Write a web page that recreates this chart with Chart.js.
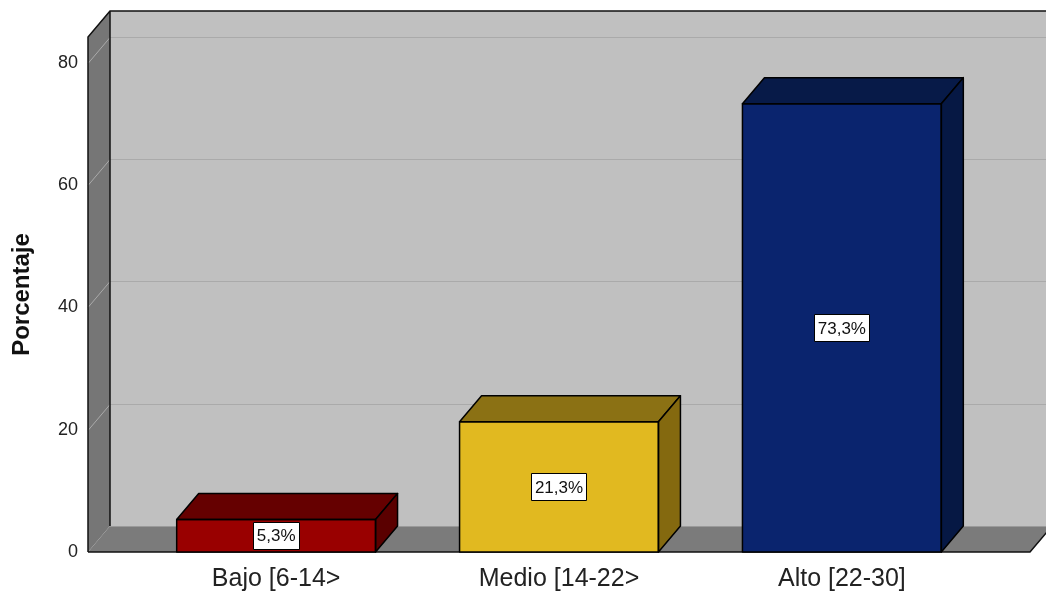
<!DOCTYPE html>
<html lang="es">
<head>
    <meta charset="UTF-8">
    <script src="https://cdn.jsdelivr.net/npm/chart.js"></script>
    <title>Porcentaje por nivel</title>
    <style>
        body { margin: 0; background: #fff; }
        #wrap { width: 1046px; height: 596px; }
    </style>
</head>
<body>
    <div id="wrap">
        <canvas id="barChart"></canvas>
    </div>

    <script>
    const categories = ['Bajo [6-14>', 'Medio [14-22>', 'Alto [22-30]'];
    const porcentajes = [5.3, 21.3, 73.3];
    const yTicks = [0, 20, 40, 60, 80];

    const frontColors = ['#990000', '#e1b920', '#0a246e'];
    const topColors = ['#650000', '#8b7114', '#071a48'];
    const sideColors = ['#5a0000', '#84690f', '#061844'];

    const DX = 22, DY = 26;

    // walls, floor and grid of the 3D box
    const box3d = {
        id: 'box3d',
        beforeDatasetsDraw(chart) {
            const {ctx, chartArea: a, scales: {y}} = chart;
            const W = chart.width;
            ctx.save();
            // back wall
            ctx.fillStyle = '#c0c0c0';
            ctx.fillRect(a.left + DX, a.top - DY, W - a.left - DX, a.bottom - a.top);
            // left wall
            ctx.fillStyle = '#767676';
            ctx.beginPath();
            ctx.moveTo(a.left, a.top);
            ctx.lineTo(a.left + DX, a.top - DY);
            ctx.lineTo(a.left + DX, a.bottom - DY);
            ctx.lineTo(a.left, a.bottom);
            ctx.closePath();
            ctx.fill();
            // grid lines
            ctx.strokeStyle = '#aaaaaa';
            ctx.lineWidth = 1;
            yTicks.forEach(v => {
                if (v === 0) return;
                const py = Math.round(y.getPixelForValue(v)) + 0.5;
                ctx.beginPath();
                ctx.moveTo(a.left, py);
                ctx.lineTo(a.left + DX, py - DY);
                ctx.lineTo(W, py - DY);
                ctx.stroke();
            });
            // floor
            ctx.fillStyle = '#7b7b7b';
            ctx.beginPath();
            ctx.moveTo(a.left, a.bottom);
            ctx.lineTo(a.right, a.bottom);
            ctx.lineTo(a.right + DX, a.bottom - DY);
            ctx.lineTo(a.left + DX, a.bottom - DY);
            ctx.closePath();
            ctx.fill();
            ctx.strokeStyle = '#9a9a9a';
            ctx.beginPath();
            ctx.moveTo(a.left + DX, a.bottom - DY + 0.5);
            ctx.lineTo(W, a.bottom - DY + 0.5);
            ctx.stroke();
            // edges
            ctx.strokeStyle = '#111';
            ctx.lineWidth = 1.5;
            ctx.beginPath();
            ctx.moveTo(a.left, a.bottom);
            ctx.lineTo(a.left, a.top);
            ctx.lineTo(a.left + DX, a.top - DY);
            ctx.lineTo(W, a.top - DY);
            ctx.moveTo(a.left + DX, a.top - DY);
            ctx.lineTo(a.left + DX, a.bottom - DY);
            ctx.moveTo(a.left, a.bottom);
            ctx.lineTo(a.right, a.bottom);
            ctx.lineTo(a.right + DX, a.bottom - DY);
            ctx.stroke();
            ctx.restore();
        },
        afterDatasetsDraw(chart) {
            const {ctx} = chart;
            const bars = chart.getDatasetMeta(0).data;
            ctx.save();
            ctx.strokeStyle = '#000';
            ctx.lineWidth = 1.5;
            ctx.lineJoin = 'round';
            bars.forEach((bar, i) => {
                const {x, y, base, width} = bar.getProps(['x', 'y', 'base', 'width'], true);
                const l = x - width / 2, r = x + width / 2;
                // top face
                ctx.fillStyle = topColors[i];
                ctx.beginPath();
                ctx.moveTo(l, y);
                ctx.lineTo(l + DX, y - DY);
                ctx.lineTo(r + DX, y - DY);
                ctx.lineTo(r, y);
                ctx.closePath();
                ctx.fill();
                ctx.stroke();
                // side face
                ctx.fillStyle = sideColors[i];
                ctx.beginPath();
                ctx.moveTo(r, y);
                ctx.lineTo(r + DX, y - DY);
                ctx.lineTo(r + DX, base - DY);
                ctx.lineTo(r, base);
                ctx.closePath();
                ctx.fill();
                ctx.stroke();
                // front outline
                ctx.strokeRect(l, y, width, base - y);
                // value label
                const txt = porcentajes[i].toFixed(1).replace('.', ',') + '%';
                ctx.font = '17px "Liberation Sans", Arial, sans-serif';
                const tw = ctx.measureText(txt).width;
                const cy = (y + base) / 2;
                const bw = tw + 7, bh = 27;
                ctx.lineWidth = 1;
                ctx.fillStyle = '#fff';
                ctx.fillRect(Math.round(x - bw / 2) + 0.5, Math.round(cy - bh / 2) + 0.5, Math.round(bw), bh);
                ctx.strokeRect(Math.round(x - bw / 2) + 0.5, Math.round(cy - bh / 2) + 0.5, Math.round(bw), bh);
                ctx.lineWidth = 1.5;
                ctx.fillStyle = '#111';
                ctx.textAlign = 'center';
                ctx.textBaseline = 'middle';
                ctx.fillText(txt, x, cy + 1);
            });
            ctx.restore();
        }
    };

    const ctx = document.getElementById('barChart');

    new Chart(ctx, {
        type: 'bar',
        data: {
            datasets: [{
                label: 'Porcentaje',
                data: porcentajes.map((v, i) => ({x: i, y: v})),
                backgroundColor: frontColors,
                borderColor: '#000',
                borderWidth: 0,
                categoryPercentage: 1,
                barPercentage: 0.703
            }]
        },
        options: {
            responsive: true,
            maintainAspectRatio: false,
            animation: false,
            layout: {
                padding: {top: 37, right: 16, left: 0, bottom: 0}
            },
            plugins: {
                legend: {display: false},
                tooltip: {enabled: false}
            },
            scales: {
                x: {
                    type: 'linear',
                    min: -0.665,
                    max: 2.665,
                    offset: false,
                    grid: {display: false, drawTicks: false},
                    border: {display: false},
                    afterBuildTicks: (scale) => {
                        scale.ticks = categories.map((c, i) => ({value: i}));
                    },
                    afterFit: (scale) => { scale.height = 44; },
                    ticks: {
                        callback: (v) => categories[v],
                        maxRotation: 0,
                        autoSkip: false,
                        padding: 12,
                        color: '#222',
                        font: {family: '"Liberation Sans", Arial, sans-serif', size: 25}
                    }
                },
                y: {
                    min: 0,
                    max: 84.2,
                    grid: {display: false, drawTicks: false},
                    border: {display: false},
                    afterBuildTicks: (scale) => {
                        scale.ticks = yTicks.map(v => ({value: v}));
                    },
                    afterFit: (scale) => { scale.width = 88; },
                    ticks: {
                        padding: 10,
                        color: '#222',
                        font: {family: '"Liberation Sans", Arial, sans-serif', size: 18}
                    },
                    title: {
                        display: true,
                        text: 'Porcentaje',
                        color: '#111',
                        padding: {top: 8, bottom: 0},
                        font: {family: '"Liberation Sans", Arial, sans-serif', size: 24, weight: 'bold'}
                    }
                }
            }
        },
        plugins: [box3d]
    });
    </script>
</body>
</html>
